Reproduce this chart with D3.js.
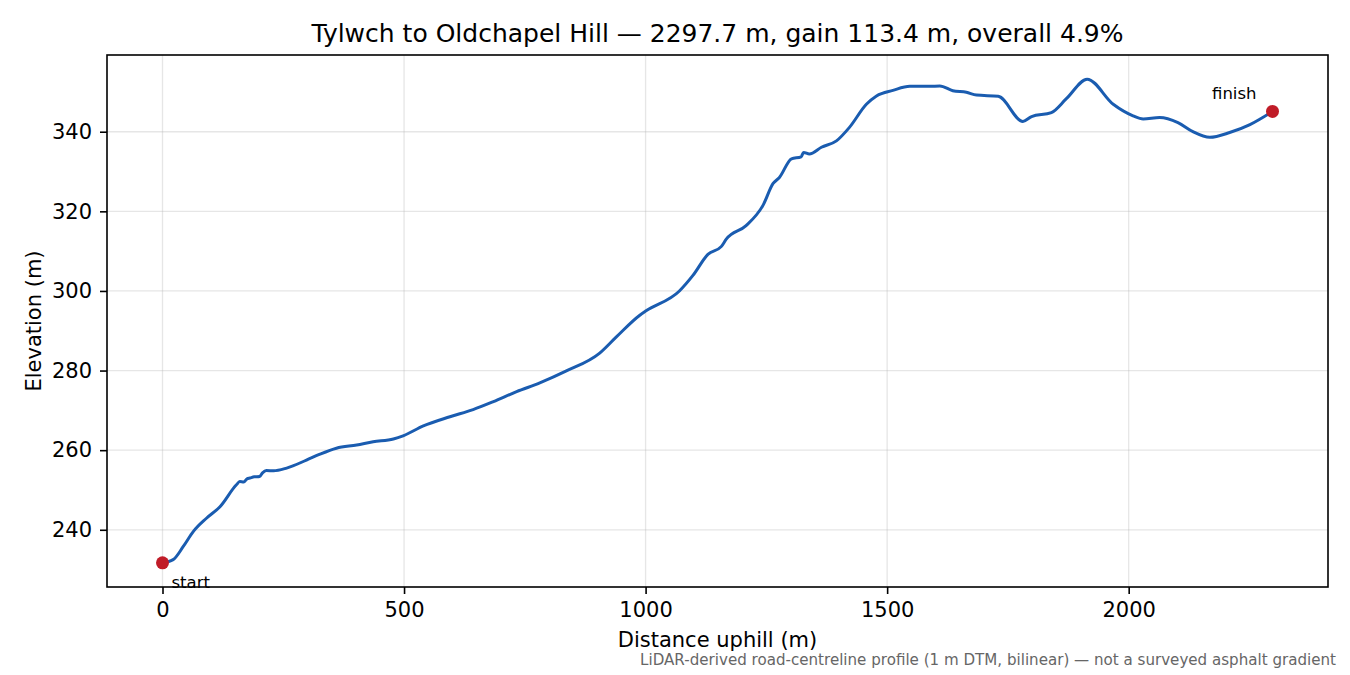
<!DOCTYPE html>
<html>
<head>
<meta charset="utf-8">
<script src="https://cdn.jsdelivr.net/npm/d3@7"></script>
<style>
  body { margin: 0; background: #fff; }
  svg { font-family: "DejaVu Sans", sans-serif; }
</style>
</head>
<body>
<div id="viz-container"></div>
<script>
// profile (distance m, elevation m)
let distances = [0, 22, 43, 64, 91, 119, 153, 160, 168, 175, 181, 190, 201, 207, 215, 230, 257, 298, 326, 360,
    402, 436, 478, 498, 540, 595, 643, 685, 733, 781, 836, 905, 939, 988, 1001, 1070, 1098, 1129, 1157, 1167,
    1208, 1243, 1264, 1277, 1302, 1322, 1327, 1339, 1364, 1395, 1422, 1457, 1478, 1512, 1547, 1588, 1609, 1636,
    1664, 1685, 1730, 1781, 1799, 1840, 1871, 1914, 1968, 2009, 2030, 2064, 2102, 2133, 2168, 2209, 2251, 2297.7];
let elevations = [231.7, 232.5, 235.8, 239.6, 242.9, 245.8, 251.3, 252.1, 252.0, 252.8, 253.0, 253.3, 253.4, 254.3,
    254.9, 254.8, 255.5, 257.5, 259.0, 260.5, 261.3, 262.1, 262.8, 263.6, 266.1, 268.4, 270.2, 272.2, 274.7, 276.9,
    279.9, 284.4, 288.4, 293.9, 295.0, 300.0, 303.9, 309.2, 311.2, 313.0, 316.4, 321.5, 327.0, 328.5, 333.2, 333.7,
    334.8, 334.4, 336.1, 337.7, 341.1, 346.9, 349.0, 350.4, 351.4, 351.4, 351.5, 350.3, 349.9, 349.2, 348.9, 342.6,
    343.8, 344.8, 348.3, 353.2, 346.9, 344.0, 343.2, 343.6, 342.3, 340.0, 338.6, 339.8, 341.8, 345.1];
let xTicks = [0, 500, 1000, 1500, 2000];
let yTicks = [240, 260, 280, 300, 320, 340];
let endLabels = ["start", "finish"];

let W = 1350, H = 675;
let mLeft = 107, mRight = 1328, mTop = 55, mBottom = 587;

let viz = d3.select("#viz-container")
    .append("svg")
        .attr("width", W)
        .attr("height", H)
        .style("background-color", "white");

let points = distances.map(function(d, i){ return {d: d, e: elevations[i]}; });

// matplotlib style 5% margins
let xExt = d3.extent(distances), yExt = d3.extent(elevations);
let xPad = (xExt[1] - xExt[0]) * 0.05, yPad = (yExt[1] - yExt[0]) * 0.05;
let x = d3.scaleLinear().domain([xExt[0] - xPad, xExt[1] + xPad]).range([mLeft, mRight]);
let y = d3.scaleLinear().domain([yExt[0] - yPad, yExt[1] + yPad]).range([mBottom, mTop]);

// grid
viz.append("g").selectAll("line").data(xTicks).enter().append("line")
    .attr("x1", d => x(d)).attr("x2", d => x(d))
    .attr("y1", mTop).attr("y2", mBottom)
    .attr("stroke", "#b0b0b0").attr("stroke-opacity", 0.32).attr("stroke-width", 1.3);
viz.append("g").selectAll("line").data(yTicks).enter().append("line")
    .attr("y1", d => y(d)).attr("y2", d => y(d))
    .attr("x1", mLeft).attr("x2", mRight)
    .attr("stroke", "#b0b0b0").attr("stroke-opacity", 0.32).attr("stroke-width", 1.3);

// axes
let xAxis = viz.append("g")
    .attr("transform", "translate(0," + mBottom + ")")
    .call(d3.axisBottom(x).tickValues(xTicks).tickSize(7).tickPadding(8).tickFormat(d3.format("d")));
let yAxis = viz.append("g")
    .attr("transform", "translate(" + mLeft + ",0)")
    .call(d3.axisLeft(y).tickValues(yTicks).tickSize(7).tickPadding(8).tickFormat(d3.format("d")));
[xAxis, yAxis].forEach(function(a){
    a.select(".domain").remove();
    a.selectAll("line").attr("stroke", "#000").attr("stroke-width", 1.6);
    a.selectAll("text").attr("font-size", "21px").attr("fill", "#000")
        .attr("font-family", "DejaVu Sans, sans-serif");
});

// frame
viz.append("rect")
    .attr("x", mLeft).attr("y", mTop)
    .attr("width", mRight - mLeft).attr("height", mBottom - mTop)
    .attr("fill", "none").attr("stroke", "#000").attr("stroke-width", 1.6);

// profile line
let line = d3.line().x(p => x(p.d)).y(p => y(p.e)).curve(d3.curveMonotoneX);
viz.append("path")
    .datum(points)
    .attr("d", line)
    .attr("fill", "none")
    .attr("stroke", "#1a5cb0")
    .attr("stroke-width", 3)
    .attr("stroke-linejoin", "round");

// end markers
let ends = [points[0], points[points.length - 1]];
viz.selectAll(".endDot").data(ends).enter().append("circle")
    .attr("class", "endDot")
    .attr("cx", p => x(p.d)).attr("cy", p => y(p.e))
    .attr("r", 6.5)
    .attr("fill", "#c01c28");

viz.append("text")
    .text(endLabels[0])
    .attr("x", x(ends[0].d) + 9).attr("y", y(ends[0].e) + 25)
    .attr("font-size", "16.5px");
viz.append("text")
    .text(endLabels[1])
    .attr("x", x(ends[1].d) - 16).attr("y", y(ends[1].e) - 12)
    .attr("text-anchor", "end")
    .attr("font-size", "16.5px");

// titles
viz.append("text")
    .text("Tylwch to Oldchapel Hill — 2297.7 m, gain 113.4 m, overall 4.9%")
    .attr("x", (mLeft + mRight) / 2).attr("y", 42)
    .attr("text-anchor", "middle")
    .attr("font-size", "25px");
viz.append("text")
    .text("Distance uphill (m)")
    .attr("x", (mLeft + mRight) / 2).attr("y", 647)
    .attr("text-anchor", "middle")
    .attr("font-size", "21px");
viz.append("text")
    .text("Elevation (m)")
    .attr("transform", "translate(41," + (mTop + mBottom) / 2 + ") rotate(-90)")
    .attr("text-anchor", "middle")
    .attr("font-size", "21px");
viz.append("text")
    .text("LiDAR-derived road-centreline profile (1 m DTM, bilinear) — not a surveyed asphalt gradient")
    .attr("x", 1336).attr("y", 665)
    .attr("text-anchor", "end")
    .attr("fill", "#666")
    .attr("font-size", "15.1px");
</script>
</body>
</html>
